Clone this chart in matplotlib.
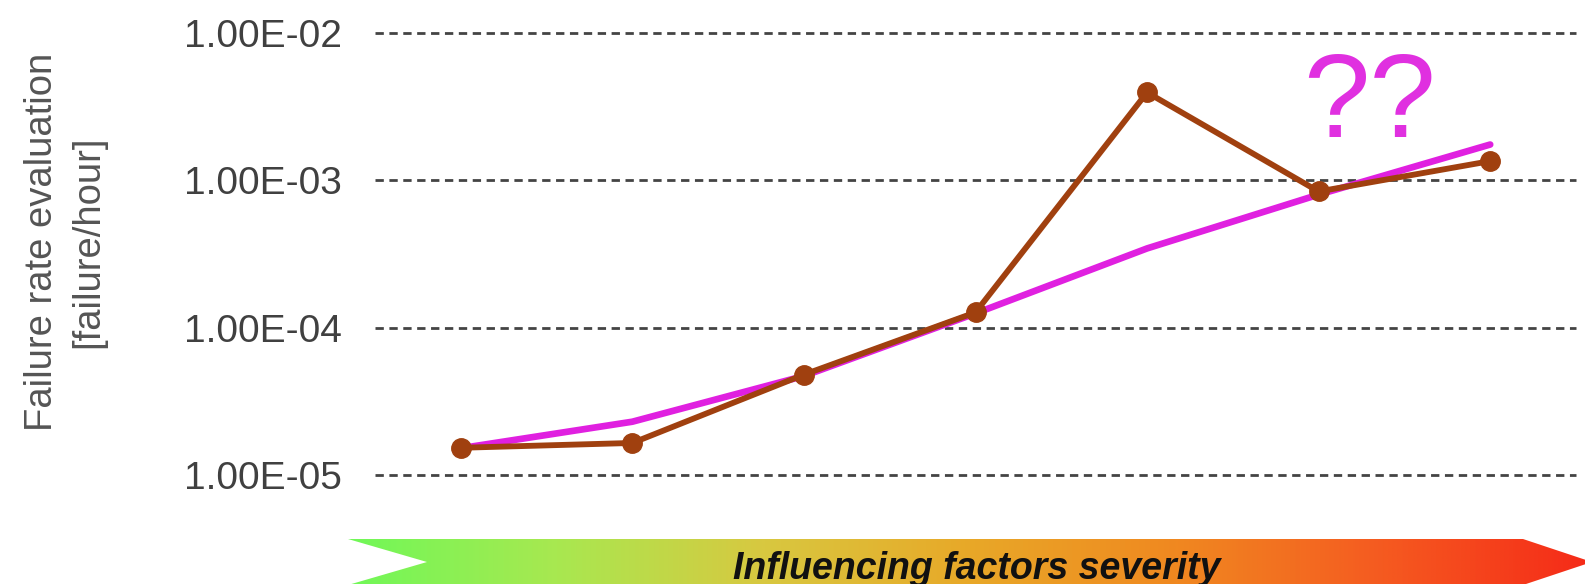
import numpy as np
import matplotlib
matplotlib.use("Agg")
import matplotlib.pyplot as plt
from matplotlib.colors import LinearSegmentedColormap
from matplotlib.patches import Polygon

# values (7 severity steps, log scale)
steps = [1, 2, 3, 4, 5, 6, 7]
failure_rate = [1.53e-5, 1.65e-5, 4.8e-5, 1.27e-4, 3.95e-3, 8.4e-4, 1.35e-3]
trend_rate = [1.52e-5, 2.3e-5, 4.7e-5, 1.25e-4, 3.45e-4, 8.0e-4, 1.75e-3]
y_ticks = [1e-5, 1e-4, 1e-3, 1e-2]
y_tick_labels = ["1.00E-05", "1.00E-04", "1.00E-03", "1.00E-02"]

W, H = 1585, 584
plt.rcParams['font.family'] = ['Liberation Sans', 'DejaVu Sans']

fig = plt.figure(figsize=(W / 100, H / 100), dpi=100)

# background layer in pixel coordinates for the severity arrow
bg = fig.add_axes([0, 0, 1, 1])
bg.set_xlim(0, W)
bg.set_ylim(H, 0)
bg.axis("off")

arrow_pts = [(348, 539), (1523, 539), (1592, 562), (1523, 585),
             (348, 585), (427, 562)]
cmap = LinearSegmentedColormap.from_list(
    "sev", ["#70f858", "#a8e850", "#d8c840", "#e8a828", "#f08820",
            "#f55a20", "#f52a18"])
grad = np.linspace(0, 1, 512).reshape(1, -1)
img = bg.imshow(grad, cmap=cmap, aspect="auto",
                extent=(348, 1592, 585, 539), zorder=1)
clip = Polygon(arrow_pts, closed=True, transform=bg.transData)
img.set_clip_path(clip)
bg.text(977, 579, "Influencing factors severity", fontsize=27,
        fontweight="bold", fontstyle="italic", color="#111111",
        ha="center", va="baseline", zorder=2)

# main chart
ax = fig.add_axes([375 / W, 1 - 475 / H, (1576 - 375) / W, (475 - 33) / H])
ax.patch.set_alpha(0)
ax.set_yscale("log")
ax.set_ylim(1e-5, 1e-2)
ax.set_xlim(0.5, 7.5)
ax.set_yticks(y_ticks)
ax.set_yticklabels(y_tick_labels)
ax.yaxis.set_minor_locator(matplotlib.ticker.NullLocator())
ax.set_xticks([])
ax.tick_params(axis="y", length=0, pad=24, labelsize=28, labelcolor="#404040")
for s in ax.spines.values():
    s.set_visible(False)
ax.grid(axis="y", color="#444444", linestyle=(0, (3.0, 2.0)), linewidth=2.0)
for gl in ax.yaxis.get_gridlines():
    gl.set_clip_on(False)

ax.plot(steps, trend_rate, color="#e020e0", linewidth=4.8, zorder=3,
        solid_capstyle="round", solid_joinstyle="round", clip_on=False)
ax.plot(steps, failure_rate, color="#a0400f", linewidth=4.2, marker="o",
        markersize=14, zorder=4, clip_on=False)

ax.text(0.828, 0.765, "??", transform=ax.transAxes, fontsize=86,
        color="#e030e0", ha="center", va="baseline")

fig.text(65 / W, 1 - 242 / H, "Failure rate evaluation\n[failure/hour]",
         rotation=90, ha="center", va="center", multialignment="center",
         fontsize=27.5, color="#555555", linespacing=1.35)

fig.savefig("out.png", dpi=100)
